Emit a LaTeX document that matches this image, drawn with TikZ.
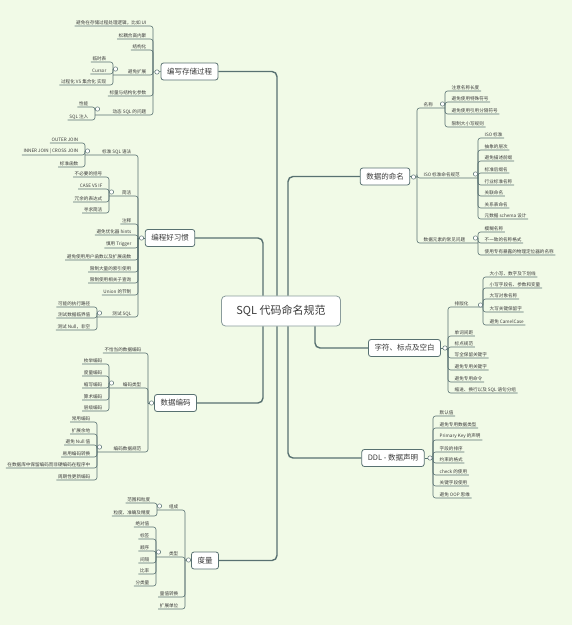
\documentclass[tikz,border=0pt]{standalone}
\usepackage{fontspec}
\setmainfont{Noto Sans CJK SC}
\usetikzlibrary{positioning}
\definecolor{paper}{HTML}{F1FAE7}
\definecolor{branch}{HTML}{587171}
\definecolor{ink}{HTML}{3B3B3B}

\begin{document}
\begin{tikzpicture}[x=1pt, y=-1pt,
  root/.style={draw=branch!70, fill=white, rounded corners=4pt, line width=0.8pt, minimum width=119pt, minimum height=30pt, text=ink, font=\fontsize{11}{12}\selectfont},
  topic/.style={draw=branch, fill=white, rounded corners=2.5pt, line width=0.8pt, minimum height=17pt, inner xsep=6pt, text=ink, font=\fontsize{7.5}{8}\selectfont},
  leaf/.style={inner xsep=1.5pt, inner ysep=0.9pt, text=ink, font=\fontsize{4.6}{5}\selectfont},
  trunk/.style={draw=branch, line width=1.4pt, rounded corners=5pt},
  twig/.style={draw=branch, line width=0.6pt, rounded corners=2.5pt},
  knob/.style={circle, draw=branch, fill=white, line width=0.5pt, inner sep=0pt, minimum size=4.4pt},
]
\fill[paper] (0,0) rectangle (572,625);
\useasboundingbox (0,0) rectangle (572,625);

\node[root] (sql) at (281,311) {SQL 代码命名规范};
\node[topic] (proc) at (189.5,71.5) {编写存储过程};
\node[topic] (habit) at (170,238) {编程好习惯};
\node[topic] (code) at (175.5,403) {数据编码};
\node[topic] (meas) at (205,560.5) {度量};
\node[topic] (name) at (385,176.5) {数据的命名};
\node[topic] (char) at (404.5,348) {字符、标点及空白};
\node[topic] (ddl) at (393,458) {DDL - 数据声明};

\coordinate (ta) at (263,0);
\coordinate (tb) at (277,0);
\coordinate (tc) at (288,0);
\coordinate (td) at (315,0);
\draw[trunk] (sql.north -| ta) |- (habit.east);
\draw[trunk] (sql.north -| tb) |- (proc.east);
\draw[trunk] (sql.north -| tc) |- (name.west);
\draw[trunk] (sql.south -| ta) |- (code.east);
\draw[trunk] (sql.south -| tb) |- (meas.east);
\draw[trunk] (sql.south -| tc) |- (ddl.west);
\draw[trunk] (sql.south -| td) |- (char.west);

% 编写存储过程
\coordinate (sp) at (153,72);
\foreach \i/\y/\t in {1/26/{避免在存储过程处理逻辑，比如 UI},2/39/松耦合高内聚,3/50/结构化,5/96/标量与结构化参数}{
  \node[leaf, anchor=south east] (p\i) at (148,\y) {\t};
  \draw[twig] (p\i.south west) -| (sp);
}
\node[leaf, anchor=south east] (p4) at (148,75) {避免扩展};
\coordinate (sp4) at (113,69);
\draw[twig] (sp4 |- p4.south) -| (sp);
\foreach \i/\y/\t in {a/62/临时表,b/74/Cursor,c/85/{过程化 VS 集合化 实现}}{
  \node[leaf, anchor=south east] (p4\i) at (108,\y) {\t};
  \draw[twig] (p4\i.south west) -| (sp4);
}
\node[leaf, anchor=south east] (p6) at (148,115) {动态 SQL 的问题};
\coordinate (sp6) at (95,109);
\draw[twig] (sp6 |- p6.south) -| (sp);
\foreach \i/\y/\t in {a/107/性能,b/120/SQL 注入}{
  \node[leaf, anchor=south east] (p6\i) at (90,\y) {\t};
  \draw[twig] (p6\i.south west) -| (sp6);
}
\draw[twig] (sp) -- (proc.west);

% 编程好习惯
\coordinate (sh) at (138,238);
\foreach \i/\y/\t in {3/224/注释,4/235/避免优化器 hints,5/248/慎用 Trigger,6/260/避免使用用户函数以及扩展函数,7/272/限制大量的索引使用,8/283/限制使用相关子查询,9/295/Union 的节制}{
  \node[leaf, anchor=south east] (h\i) at (133,\y) {\t};
  \draw[twig] (h\i.south west) -| (sh);
}
\node[leaf, anchor=south east] (h1) at (133,155) {标准 SQL 语法};
\coordinate (sh1) at (85,151);
\draw[twig] (sh1 |- h1.south) -| (sh);
\foreach \i/\y/\t in {a/143/OUTER JOIN,b/155/INNER JOIN | CROSS JOIN,c/167/标准函数}{
  \node[leaf, anchor=south east] (h1\i) at (80,\y) {\t};
  \draw[twig] (h1\i.south west) -| (sh1);
}
\node[leaf, anchor=south east] (h2) at (133,196) {简洁};
\coordinate (sh2) at (109,192);
\draw[twig] (sh2 |- h2.south) -| (sh);
\foreach \i/\y/\t in {a/177/不必要的括号,b/189/CASE VS IF,c/202/冗余的表达式,d/213/寻求简洁}{
  \node[leaf, anchor=south east] (h2\i) at (104,\y) {\t};
  \draw[twig] (h2\i.south west) -| (sh2);
}
\node[leaf, anchor=south east] (h10) at (133,317) {测试 SQL};
\coordinate (sh10) at (97,313);
\draw[twig] (sh10 |- h10.south) -| (sh);
\foreach \i/\y/\t in {a/307/可能的执行路径,b/318/测试数据临界值,c/330/测试 Null，非空}{
  \node[leaf, anchor=south east] (h10\i) at (92,\y) {\t};
  \draw[twig] (h10\i.south west) -| (sh10);
}
\draw[twig] (sh) -- (habit.west);

% 数据编码
\coordinate (sc) at (148,403);
\node[leaf, anchor=south east] (c1) at (143,353) {不恰当的数据编码};
\draw[twig] (c1.south west) -| (sc);
\node[leaf, anchor=south east] (c2) at (143,388) {编码类型};
\coordinate (sc2) at (109,383);
\draw[twig] (sc2 |- c2.south) -| (sc);
\foreach \i/\y/\t in {a/364/枚举编码,b/376/度量编码,c/388/缩写编码,d/400/算术编码,e/411/层级编码}{
  \node[leaf, anchor=south east] (c2\i) at (104,\y) {\t};
  \draw[twig] (c2\i.south west) -| (sc2);
}
\node[leaf, anchor=south east] (c3) at (143,452) {编码数据规范};
\coordinate (sc3) at (97,447);
\draw[twig] (sc3 |- c3.south) -| (sc);
\foreach \i/\y/\t in {a/422/常用编码,b/434/扩展余地,c/445/避免 Null 值,d/457/易用编码转换,e/468/在数据库中保留编码而非硬编码在程序中,f/480/周期性更新编码}{
  \node[leaf, anchor=south east] (c3\i) at (92,\y) {\t};
  \draw[twig] (c3\i.south west) -| (sc3);
}
\draw[twig] (sc) -- (code.west);

% 度量
\coordinate (sm) at (185,560);
\foreach \i/\y/\t in {3/597/量值转换,4/609/扩展单位}{
  \node[leaf, anchor=south east] (m\i) at (180,\y) {\t};
  \draw[twig] (m\i.south west) -| (sm);
}
\node[leaf, anchor=south east] (m1) at (180,510) {组成};
\coordinate (sm1) at (157,506);
\draw[twig] (sm1 |- m1.south) -| (sm);
\foreach \i/\y/\t in {a/503/范围和粒度,b/516/粒度、准确及精度}{
  \node[leaf, anchor=south east] (m1\i) at (152,\y) {\t};
  \draw[twig] (m1\i.south west) -| (sm1);
}
\node[leaf, anchor=south east] (m2) at (180,557) {类型};
\coordinate (sm2) at (156,552);
\draw[twig] (sm2 |- m2.south) -| (sm);
\foreach \i/\y/\t in {a/527/绝对值,b/539/标签,c/551/顺序,d/563/间隔,e/574/比率,f/586/分类量}{
  \node[leaf, anchor=south east] (m2\i) at (151,\y) {\t};
  \draw[twig] (m2\i.south west) -| (sm2);
}
\draw[twig] (sm) -- (meas.west);

% 数据的命名
\coordinate (sn) at (417,177);
\node[leaf, anchor=south west] (n1) at (422,108) {名称};
\coordinate (sn1) at (445,104);
\draw[twig] (sn1 |- n1.south) -| (sn);
\foreach \i/\y/\t in {a/91/注意名称长度,b/102/避免使用特殊符号,c/114/避免使用引用分隔符号,d/127/限制大小写规则}{
  \node[leaf, anchor=south west] (n1\i) at (450,\y) {\t};
  \draw[twig] (n1\i.south east) -| (sn1);
}
\node[leaf, anchor=south west] (n2) at (422,178) {ISO 标准命名规范};
\coordinate (sn2) at (478,174);
\draw[twig] (sn2 |- n2.south) -| (sn);
\foreach \i/\y/\t in {a/138/ISO 标准,b/150/抽象的层次,c/161/避免描述前缀,d/173/标准后缀名,e/185/行业标准名称,f/196/关联命名,g/208/关系表命名,h/219/元数据 schema 设计}{
  \node[leaf, anchor=south west] (n2\i) at (483,\y) {\t};
  \draw[twig] (n2\i.south east) -| (sn2);
}
\node[leaf, anchor=south west] (n3) at (422,243) {数据元素的常见问题};
\coordinate (sn3) at (478,238);
\draw[twig] (sn3 |- n3.south) -| (sn);
\foreach \i/\y/\t in {a/232/模糊名称,b/243/不一致的名称格式,c/255/使用专有暴露的物理定位器的名称}{
  \node[leaf, anchor=south west] (n3\i) at (483,\y) {\t};
  \draw[twig] (n3\i.south east) -| (sn3);
}
\draw[twig] (sn) -- (name.east);

% 字符、标点及空白
\coordinate (sr) at (448,348);
\foreach \i/\y/\t in {2/336/单词间距,3/347/标点规范,4/358/写全保留关键字,5/370/避免专用关键字,6/382/避免专用命令,7/393/缩进、换行以及 SQL 语句分组}{
  \node[leaf, anchor=south west] (r\i) at (453,\y) {\t};
  \draw[twig] (r\i.south east) -| (sr);
}
\node[leaf, anchor=south west] (r1) at (453,307) {排版化};
\coordinate (sr1) at (483,305);
\draw[twig] (sr1 |- r1.south) -| (sr);
\foreach \i/\y/\t in {a/277/大小写、数字及下划线,b/288/小写字段名、参数和变量,c/299/大写对象名称,d/312/大写关键保留字,e/325/避免 CamelCase}{
  \node[leaf, anchor=south west] (r1\i) at (488,\y) {\t};
  \draw[twig] (r1\i.south east) -| (sr1);
}
\draw[twig] (sr) -- (char.east);

% DDL - 数据声明
\coordinate (sd) at (433,458);
\foreach \i/\y/\t in {1/416/默认值,2/428/避免专用数据类型,3/440/Primary Key 的声明,4/452/字段的排序,5/463/约束的格式,6/475/check 的使用,7/486/关键字段使用,8/498/避免 OOP 思维}{
  \node[leaf, anchor=south west] (d\i) at (438,\y) {\t};
  \draw[twig] (d\i.south east) -| (sd);
}
\draw[twig] (sd) -- (ddl.east);

\foreach \n/\x/\y in {kp/157/72,kp4/115.5/69,kp6/97.5/109,kh/141.5/238,kh1/87.5/151,kh2/111.5/192,kh10/99.5/313,kc/151.5/403,kc2/111.5/383,kc3/99.5/447,km/188.5/560,km1/159.5/506,km2/158.5/552,kn/413.5/177,kn1/442.5/104,kn2/475.5/174,kn3/475.5/238,kr/445/348,kr1/480.5/305,kd/430/458}
  \node[knob] (\n) at (\x,\y) {};
\end{tikzpicture}
\end{document}
